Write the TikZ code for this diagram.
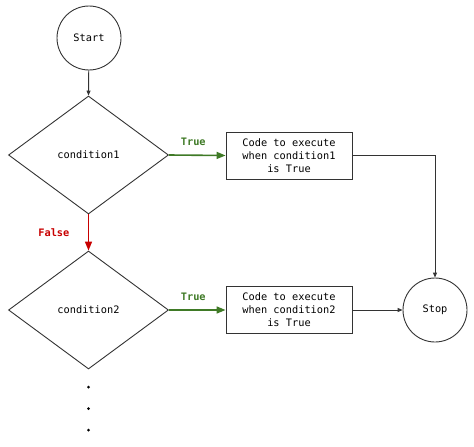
\documentclass[tikz,border=0pt]{standalone}
\usepackage{fontspec}
\setmonofont{DejaVu Sans Mono}
\usetikzlibrary{arrows.meta,shapes.geometric}
\definecolor{tgreen}{HTML}{3F7A26}
\definecolor{fred}{HTML}{C80000}
\tikzset{
  base/.style={draw=black!80, line width=0.9pt, font=\ttfamily\fontsize{10.3}{13}\selectfont},
  term/.style={base, circle, minimum size=64pt, inner sep=0pt},
  cond/.style={base, diamond, minimum width=160pt, minimum height=118pt, inner sep=0pt, aspect=1.36},
  proc/.style={base, rectangle, minimum width=126pt, minimum height=47pt, inner sep=1pt, align=center},
  conn/.style={draw=black!80, line width=0.9pt, -{Triangle[length=5pt,width=4pt]}},
  yes/.style={draw=tgreen, line width=1.6pt, -{Triangle[length=9pt,width=7pt]}},
  no/.style={draw=fred, line width=1.6pt, -{Triangle[length=9pt,width=7pt]}},
  lbl/.style={font=\ttfamily\bfseries\fontsize{10.3}{12}\selectfont},
  dot/.style={circle, fill=black, inner sep=0pt, minimum size=3pt}
}
\begin{document}
\begin{tikzpicture}[x=1pt,y=-1pt]
\useasboundingbox (0,0) rectangle (474,447);
\node[term] (start) at (89,38) {Start};
\node[cond] (c1) at (88.5,155) {condition1};
\node[proc] (p1) at (289,155.5) {Code to execute\\when condition1\\is True};
\node[cond] (c2) at (88.5,310) {condition2};
\node[proc] (p2) at (289,310) {Code to execute\\when condition2\\is True};
\node[term] (stop) at (435,310) {Stop};
\node[dot] (d1) at (88.5,387) {};
\node[dot] (d2) at (88.5,408.5) {};
\node[dot] (d3) at (88.5,430) {};
\coordinate (corner) at (435,155.5);
\draw[conn] (start) -- (c1.north);
\draw[yes] (c1.east) -- (p1.west) node[midway, above=5pt, xshift=-4pt, lbl, text=tgreen] {True};
\draw[no] (c1.south) -- (c2.north) node[midway, left=15pt, lbl, text=fred] {False};
\draw[yes] (c2.east) -- (p2.west) node[midway, above=5pt, xshift=-4pt, lbl, text=tgreen] {True};
\draw[conn] (p1.east) -- (corner) -- (stop.north);
\draw[conn] (p2.east) -- (stop.west);
\end{tikzpicture}
\end{document}
